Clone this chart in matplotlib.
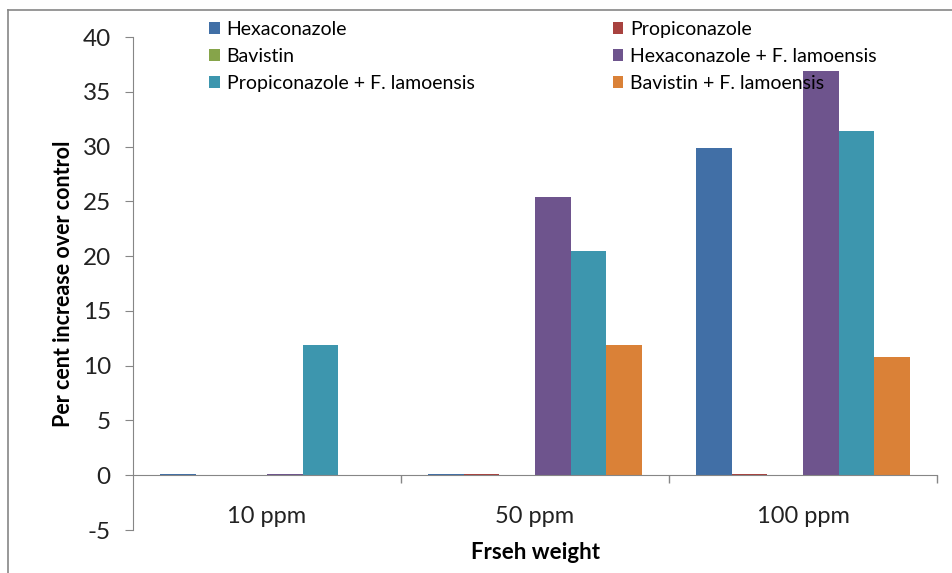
import matplotlib
matplotlib.use("Agg")
from matplotlib import pyplot as plt
from matplotlib.lines import Line2D
import numpy as np

plt.rcParams["font.family"] = ["Lato", "DejaVu Sans"]
plt.rcParams["axes.unicode_minus"] = False

doses = ["10 ppm", "50 ppm", "100 ppm"]
treatments = [
    "Hexaconazole",
    "Propiconazole",
    "Bavistin",
    "Hexaconazole + F. lamoensis",
    "Propiconazole + F. lamoensis",
    "Bavistin + F. lamoensis",
]
hexaconazole = [0.15, 0.15, 29.9]
propiconazole = [0.0, 0.15, 0.15]
bavistin = [0.0, 0.0, 0.0]
hexa_fl = [0.15, 25.4, 36.9]
propi_fl = [11.9, 20.5, 31.4]
bavi_fl = [0.0, 11.9, 10.8]
colors = ["#416FA6", "#A8423F", "#86A44A", "#6E548D", "#3D96AE", "#DA8137"]

series = [hexaconazole, propiconazole, bavistin, hexa_fl, propi_fl, bavi_fl]

fig = plt.figure(figsize=(9.53, 5.73), dpi=100)
ax = fig.add_axes([0.1396, 0.075, 0.8436, 0.8604])

x = np.arange(len(doses))
width = 0.133
bars = []
for i, (vals, name, c) in enumerate(zip(series, treatments, colors)):
    offset = (i - 2.5) * width
    bars.append(ax.bar(x + offset, vals, width, color=c, label=name, zorder=2))

ax.set_xlim(-0.5, 2.5)
ax.set_ylim(-5, 40)
ax.set_yticks(np.arange(-5, 41, 5))

axis_grey = "#868686"
for side in ["top", "right"]:
    ax.spines[side].set_visible(False)
ax.spines["bottom"].set_position(("data", 0))
ax.spines["bottom"].set_color(axis_grey)
ax.spines["left"].set_color(axis_grey)

ax.set_xticks(x)
ax.set_xticklabels(doses, fontsize=17, color="#222222")
ax.set_xticks([0.5, 1.5, 2.5], minor=True)
ax.tick_params(axis="x", which="major", length=0, pad=22)
ax.tick_params(axis="x", which="minor", length=6, direction="out",
               color=axis_grey, width=1)
ax.tick_params(axis="y", length=6, direction="out", color=axis_grey,
               labelsize=17.5, pad=10, labelcolor="#222222")

ax.set_ylabel("Per cent increase over control", fontsize=15.5,
              fontweight="bold", labelpad=6)
ax.set_xlabel("Frseh weight", fontsize=16, fontweight="bold")
ax.xaxis.set_label_coords(0.5, -0.025)

# legend filled row by row: two columns, three rows
order = [0, 2, 4, 1, 3, 5]
ax.legend([bars[i] for i in order], [treatments[i] for i in order],
          ncol=2, loc="upper left", bbox_to_anchor=(0.073, 1.068),
          frameon=False, fontsize=14, handlelength=0.55,
          handleheight=0.55, handletextpad=0.35, columnspacing=7.1,
          labelspacing=0.52)

# thin frame around the chart area (left and top edges only)
fig.add_artist(Line2D([0.0084, 0.0084], [0.0, 0.9825], color=axis_grey, lw=1.2,
                      transform=fig.transFigure))
fig.add_artist(Line2D([0.0084, 1.0], [0.9825, 0.9825], color=axis_grey, lw=1.2,
                      transform=fig.transFigure))

fig.savefig("out.png", dpi=100)
